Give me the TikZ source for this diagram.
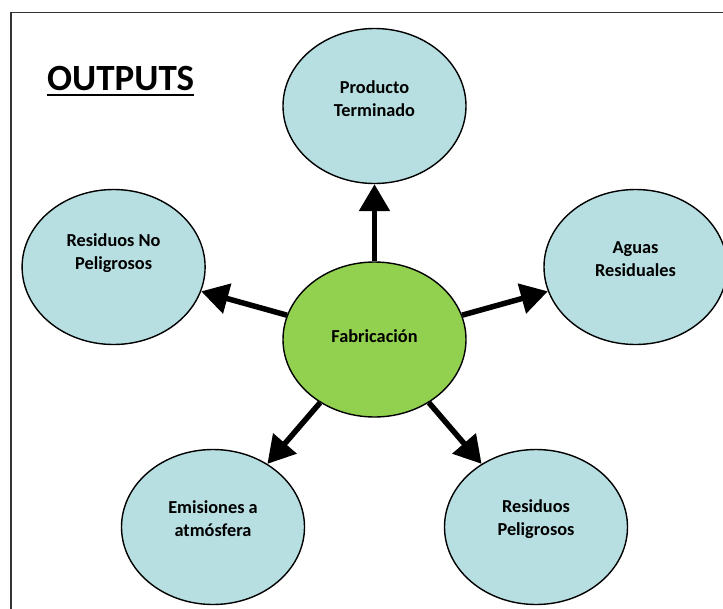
\documentclass[tikz,border=0pt]{standalone}
\usepackage{fontspec}
\setmainfont{Carlito}
\usetikzlibrary{shapes.geometric,arrows.meta}
\definecolor{outfill}{HTML}{B7DEE1}
\definecolor{fabfill}{HTML}{92D050}
\begin{document}
\begin{tikzpicture}[x=1pt,y=-1pt,
  bub/.style={ellipse,draw=black,line width=1.4pt,minimum width=183pt,minimum height=155pt,inner sep=0pt,fill=outfill},
  lbl/.style={font=\fontsize{18.3}{22.8}\selectfont\bfseries,align=center,inner sep=0pt,text=black},
  outarrow/.style={line width=5.5pt,-{Triangle[width=30pt,length=27pt]}}]
\useasboundingbox (0,0) rectangle (723,608);
\draw[black!80,line width=1.3pt] (11,608.5) -- (11,12.5) -- (723.5,12.5);
% nodes
\node[bub] (prod) at (374.5,106) {};
\node[bub,fill=fabfill] (fab) at (374.5,339.5) {};
\node[bub] (rnp) at (113.6,267) {};
\node[bub] (aguas) at (635.5,267) {};
\node[bub] (emis) at (213,527) {};
\node[bub] (rp) at (536,527) {};
% labels
\node[lbl] (tprod) at (374.5,99) {Producto\\Terminado};
\node[lbl] (tfab) at (374.5,336) {Fabricación};
\node[lbl] (trnp) at (113.6,253) {Residuos No\\Peligrosos};
\node[lbl] (taguas) at (635.5,259.5) {Aguas\\Residuales};
\node[lbl] (temis) at (213,519) {Emisiones a\\atmósfera};
\node[lbl] (trp) at (536,519.5) {Residuos\\Peligrosos};
% title
\node[font=\fontsize{37}{40}\selectfont\bfseries,anchor=base west,inner sep=0pt] (title) at (47,90) {OUTPUTS};
\draw[line width=2.2pt] ([yshift=-5pt]title.base west) -- ([yshift=-5pt]title.base east);
% arrows
\draw[outarrow] (fab) -- (prod);
\draw[outarrow] (fab) -- (rnp);
\draw[outarrow] (fab) -- (aguas);
\draw[outarrow] (fab) -- (emis);
\draw[outarrow] (fab) -- (rp);
\end{tikzpicture}
\end{document}
